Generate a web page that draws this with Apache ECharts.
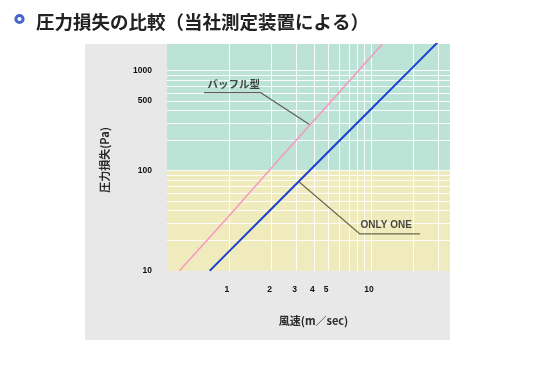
<!DOCTYPE html>
<html>
<head>
<meta charset="utf-8">
<script src="https://cdn.jsdelivr.net/npm/echarts@6/dist/echarts.min.js"></script>
<style>
html,body{margin:0;padding:0;background:#fff;}
#c{width:540px;height:367px;}
</style>
</head>
<body>
<div id="c"></div>
<script>
// ---- data ----
const titleText = '圧力損失の比較（当社測定装置による）';
const xAxisName = '風速(m／sec)';
const yAxisName = '圧力損失(Pa)';
// wind speed (m/sec) and pressure loss (Pa)
const baffleSpeed = [0.45, 1, 2, 5, 10, 12];
const baffleLoss  = [10, 35, 107, 458, 1380, 1845];
const onlyOneSpeed = [0.735, 1, 2, 5, 10, 20, 30];
const onlyOneLoss  = [10, 15.5, 41.6, 154, 412, 1106, 1972];
const baffleName = 'バッフル型';
const onlyOneName = 'ONLY ONE';
// tick labels
const xTickLabels = [1, 2, 3, 4, 5, 10];
const yTickLabels = [10, 100, 500, 1000];
// grid lines (log axes)
const xGridValues = [1, 2, 3, 4, 5, 6, 7, 8, 9, 10, 20, 30];
const yGridValues = [20, 30, 40, 50, 60, 70, 80, 90, 100, 200, 300, 400, 500, 600, 700, 800, 900, 1000];
// axis ranges
const xMin = 0.3677, xMax = 36;
const yMin = 10, yMax = 1850, bandSplit = 100;
// annotation leader lines (speed, loss)
const baffleLeader = [[0.67, 603], [1.68, 603], [3.72, 288]];
const onlyOneLeader = [[3.13, 77], [8.37, 23.3], [22.1, 23.3]];
const baffleLabelAt = [0.71, 740];
const onlyOneLabelAt = [8.46, 28.4];

const zip = (a, b) => a.map((v, i) => [v, b[i]]);
const chart = echarts.init(document.getElementById('c'), null, {renderer: 'canvas'});
const numFont = '"Liberation Sans", Arial, sans-serif';
const jpFont = '"Noto Sans CJK JP", sans-serif';

chart.setOption({
  animation: false,
  backgroundColor: '#ffffff',
  title: {
    text: titleText,
    left: 31, top: 8,
    textStyle: {fontFamily: jpFont, fontSize: 18.5, fontWeight: 'bold', color: '#222'}
  },
  graphic: [
    {type: 'rect', shape: {x: 85, y: 44, width: 365, height: 296}, style: {fill: '#e8e8e8'}, z: -10, silent: true},
    {type: 'circle', shape: {cx: 19.5, cy: 19, r: 3.6}, style: {fill: '#fff', stroke: '#4466cc', lineWidth: 3}, silent: true},
    {type: 'text', x: 105, y: 160, rotation: Math.PI / 2,
      style: {text: yAxisName, x: 0, y: 0, align: 'center', verticalAlign: 'middle', fill: '#2a2a2a', font: 'bold 11px ' + jpFont}, silent: true}
  ],
  grid: {left: 167, top: 44, width: 283, height: 226.7, containLabel: false},
  xAxis: {
    type: 'log', min: xMin, max: xMax, logBase: 10,
    name: xAxisName, nameLocation: 'middle', nameGap: 45,
    nameTextStyle: {fontFamily: jpFont, fontSize: 11, fontWeight: 'bold', color: '#2a2a2a', padding: [0, 0, 0, 10]},
    axisLine: {show: false}, axisTick: {show: false}, splitLine: {show: false},
    axisLabel: {show: true, customValues: xTickLabels, margin: 14, formatter: v => String(v),
      fontFamily: numFont, fontSize: 8.5, fontWeight: 'bold', color: '#111', padding: [0, 4, 0, 0]}
  },
  yAxis: {
    type: 'log', min: yMin, max: yMax, logBase: 10,
    axisLine: {show: false}, axisTick: {show: false}, splitLine: {show: false},
    axisLabel: {show: true, customValues: yTickLabels, margin: 15, formatter: v => String(v),
      fontFamily: numFont, fontSize: 8.5, fontWeight: 'bold', color: '#111', padding: [0, 0, 6, 0]}
  },
  series: [
    {
      type: 'line', name: 'bg', data: [], silent: true, z: 1,
      markArea: {
        silent: true, z: 1,
        data: [
          [{yAxis: yMin, itemStyle: {color: '#f0ebbd'}}, {yAxis: bandSplit}],
          [{yAxis: bandSplit, itemStyle: {color: '#bbe3d6'}}, {yAxis: yMax}]
        ]
      },
      markLine: {
        silent: true, z: 2, symbol: ['none', 'none'], label: {show: false},
        lineStyle: {color: '#ffffff', width: 1, type: 'solid', opacity: 0.9},
        emphasis: {disabled: true},
        data: xGridValues.map(v => ({xAxis: v})).concat(yGridValues.map(v => ({yAxis: v})))
      }
    },
    {
      type: 'line', name: baffleName, data: zip(baffleSpeed, baffleLoss), showSymbol: false, z: 5,
      lineStyle: {color: '#f59ac4', width: 1.6}, clip: true, silent: true
    },
    {
      type: 'line', name: onlyOneName, data: zip(onlyOneSpeed, onlyOneLoss), showSymbol: false, z: 5,
      lineStyle: {color: '#1c3fd3', width: 2}, clip: true, silent: true
    },
    {
      type: 'line', data: baffleLeader, showSymbol: false, z: 4, silent: true,
      lineStyle: {color: '#5e5e58', width: 1.2}
    },
    {
      type: 'line', data: onlyOneLeader, showSymbol: false, z: 4, silent: true,
      lineStyle: {color: '#6a6a50', width: 1.2}
    },
    {
      type: 'scatter', symbolSize: 0, z: 6, silent: true,
      data: [
        {value: baffleLabelAt, label: {formatter: baffleName, fontFamily: jpFont, fontSize: 10.5}},
        {value: onlyOneLabelAt, label: {formatter: onlyOneName, fontFamily: numFont, fontSize: 10}}
      ],
      label: {show: true, position: 'right', distance: 0, fontWeight: 'bold', color: '#1a1a1a'}
    }
  ]
});
</script>
</body>
</html>
